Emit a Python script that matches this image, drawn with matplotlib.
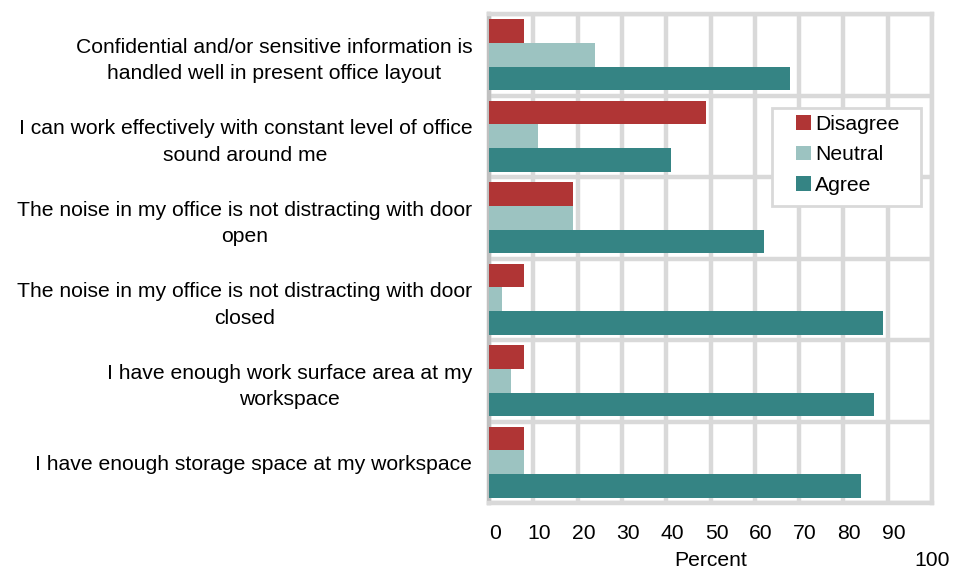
import numpy as np
import matplotlib
matplotlib.use("Agg")
import matplotlib.pyplot as plt
from matplotlib.patches import Patch, Rectangle
from matplotlib.transforms import ScaledTranslation

plt.rcParams['font.family'] = ['Liberation Sans', 'DejaVu Sans']

categories = [
    "Confidential and/or sensitive information is\nhandled well in present office layout",
    "I can work effectively with constant level of office\nsound around me",
    "The noise in my office is not distracting with door\nopen",
    "The noise in my office is not distracting with door\nclosed",
    "I have enough work surface area at my\nworkspace",
    "I have enough storage space at my workspace",
]
series_names = ["Disagree", "Neutral", "Agree"]
disagree = [8, 49, 19, 8, 8, 8]
neutral = [24, 11, 19, 3, 5, 8]
agree = [68, 41, 62, 89, 87, 84]
colors = ["#b03535", "#9cc3c1", "#358484"]
xtick_vals = [0, 10, 20, 30, 40, 50, 60, 70, 80, 90]
fs = 15.2

fig = plt.figure(figsize=(9.65, 5.69), dpi=100)
ax = fig.add_axes([489 / 965, 1 - 503 / 569, 443 / 965, 489 / 569])

y = np.arange(len(categories))
h = 0.29
for k, (vals, c) in enumerate(zip([disagree, neutral, agree], colors)):
    ax.barh(y + (k - 1) * h, vals, height=h, color=c, zorder=3)

ax.set_xlim(0, 100)
ax.set_ylim(len(categories) - 0.5, -0.5)

# grid
ax.set_xticks(xtick_vals)
ax.set_xticklabels([str(v) for v in xtick_vals])
ax.set_yticks(y)
ax.set_yticklabels(categories, multialignment='center', linespacing=1.5)
ax.set_yticks(np.arange(len(categories) + 1) - 0.5, minor=True)
ax.grid(axis='x', which='major', color='#d9d9d9', linewidth=3.2, zorder=0)
ax.grid(axis='y', which='minor', color='#d9d9d9', linewidth=3.2, zorder=0)
ax.axvline(100, color='#d9d9d9', linewidth=3.2, zorder=0)
ax.tick_params(axis='both', which='both', length=0, labelsize=fs)
ax.tick_params(axis='x', pad=15)
ax.tick_params(axis='y', pad=12)

# x tick labels sit a bit right of their gridlines
shift = ScaledTranslation(6 / 100, 0, fig.dpi_scale_trans)
for lab in ax.get_xticklabels():
    lab.set_transform(lab.get_transform() + shift)

for side in ['top', 'right', 'bottom']:
    ax.spines[side].set_color('#d9d9d9')
    ax.spines[side].set_linewidth(3.2)
ax.spines['left'].set_color('#c0c0c0')
ax.spines['left'].set_linewidth(3.2)

ax.text(50, -0.117, "Percent", transform=ax.get_xaxis_transform(), ha='center', va='center', fontsize=fs)
ax.text(100, -0.117, "100", transform=ax.get_xaxis_transform(), ha='center', va='center', fontsize=fs)

# legend box drawn separately so its padding can be wider than tall
ax.add_patch(Rectangle((0.639, 0.608), 0.3355, 0.2, transform=ax.transAxes,
                       facecolor='white', edgecolor='#d9d9d9', linewidth=2, zorder=4))
handles = [Patch(facecolor=c, edgecolor='none') for c in colors]
leg = ax.legend(handles, series_names, loc='center left', bbox_to_anchor=(0.693, 0.7117),
                fontsize=fs, frameon=False,
                handlelength=0.7, handleheight=0.7, handletextpad=0.2,
                labelspacing=0.55, borderpad=0, borderaxespad=0)
leg.set_zorder(5)

fig.savefig("out.png", dpi=100)
